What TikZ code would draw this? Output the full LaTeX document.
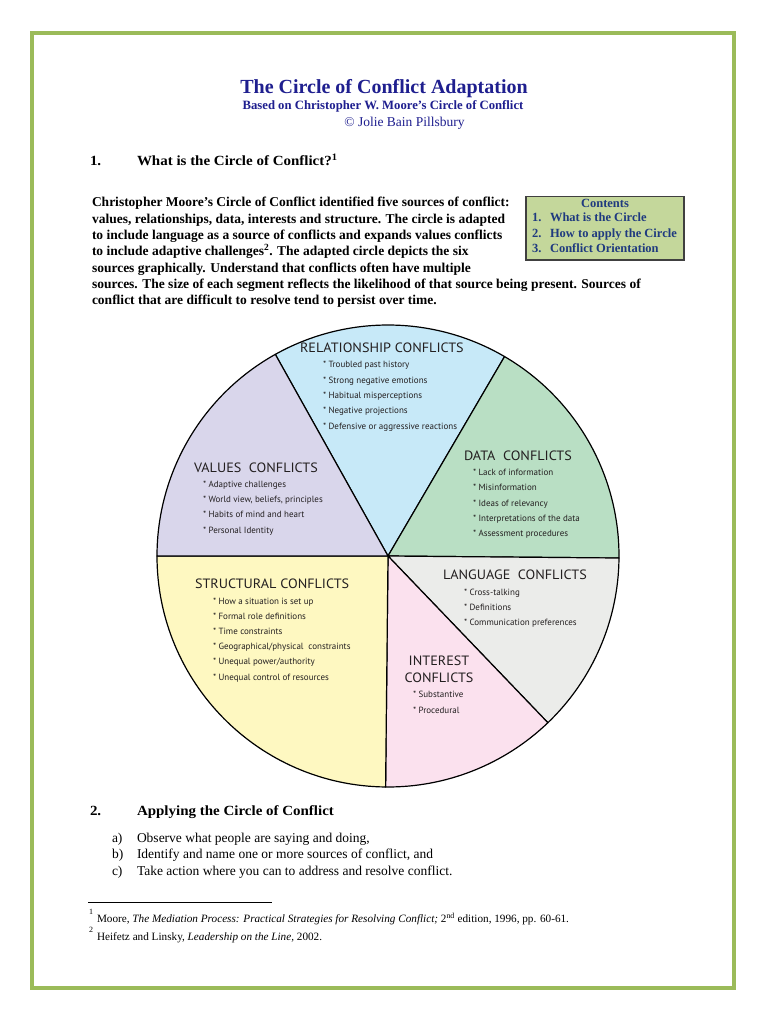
\documentclass[tikz,border=0pt]{standalone}
\usepackage{fontspec}
\setmainfont{Liberation Serif}
\newfontfamily\headfont{Liberation Serif}[FakeStretch=1.07]
\newfontfamily\piefont{PT Sans}
\newfontfamily\piehfont{PT Sans}[FakeStretch=1.05]
\definecolor{bordergreen}{HTML}{9BBB59}
\definecolor{titleblue}{HTML}{1F1F8F}
\definecolor{relblue}{HTML}{C7E9F8}
\definecolor{datagreen}{HTML}{B9DFC4}
\definecolor{langgray}{HTML}{EBECEA}
\definecolor{intpink}{HTML}{FBE1EE}
\definecolor{structyellow}{HTML}{FEF8C1}
\definecolor{valuelav}{HTML}{D9D6EB}
\definecolor{contentsgreen}{HTML}{C4D79B}
\definecolor{contentsblue}{HTML}{1F3A7F}
\definecolor{pieink}{HTML}{231F20}
\begin{document}
\begin{tikzpicture}[x=1pt,y=-1pt,
  txt/.style={anchor=base west, inner sep=0pt, outer sep=0pt},
  ctxt/.style={anchor=base, inner sep=0pt, outer sep=0pt},
  bodyline/.style={txt, font=\bfseries\fontsize{13.5}{15}\selectfont},
  itemline/.style={txt, font=\fontsize{13.5}{15}\selectfont},
  heading/.style={txt, font=\headfont\bfseries\fontsize{14}{16}\selectfont},
  conttxt/.style={txt, font=\bfseries\fontsize{12.5}{14}\selectfont, text=contentsblue},
  piehead/.style={txt, font=\piehfont\fontsize{13.5}{15}\selectfont, text=pieink},
  pieitem/.style={txt, font=\piefont\fontsize{9}{10}\selectfont, text=pieink},
  footline/.style={txt, font=\fontsize{11.2}{13}\selectfont},
  footnum/.style={txt, font=\fontsize{8}{9}\selectfont},
  seg/.style={draw=black, line width=1.2pt, line join=round}
]
\useasboundingbox (0,0) rectangle (768,1024);
\fill[white] (0,0) rectangle (768,1024);
\draw[bordergreen, line width=4pt] (32,33) rectangle (734,988);

% Title block
\node[ctxt, font=\bfseries\fontsize{20}{22}\selectfont, text=titleblue] (title) at (384,94) {The Circle of Conflict Adaptation};
\node[ctxt, font=\bfseries\fontsize{12.7}{14}\selectfont, text=titleblue] (subtitle) at (383,110) {Based on Christopher W. Moore’s Circle of Conflict};
\node[ctxt, font=\fontsize{13.5}{15}\selectfont, text=titleblue] (author) at (404.5,126.5) {© Jolie Bain Pillsbury};

% Heading 1
\node[heading] (h1num) at (90,166) {1.};
\node[heading] (h1) at (137,166) {What is the Circle of Conflict?\textsuperscript{1}};

% Paragraph
\node[bodyline] (p1) at (92,207) {Christopher Moore’s Circle of Conflict identified five sources of conflict:};
\node[bodyline] (p2) at (92,223.3) {values, relationships, data, interests and structure. The circle is adapted};
\node[bodyline] (p3) at (92,239.6) {to include language as a source of conflicts and expands values conflicts};
\node[bodyline] (p4) at (92,255.9) {to include adaptive challenges\textsuperscript{2}. The adapted circle depicts the six};
\node[bodyline] (p5) at (92,272.2) {sources graphically. Understand that conflicts often have multiple};
\node[bodyline] (p6) at (92,288.5) {sources. The size of each segment reflects the likelihood of that source being present. Sources of};
\node[bodyline] (p7) at (92,304.8) {conflict that are difficult to resolve tend to persist over time.};

% Contents box
\node[draw=black!75, line width=1.5pt, fill=contentsgreen, minimum width=158pt, minimum height=63pt, inner sep=0pt, anchor=north west] (cbox) at (525,196) {};
\node[ctxt, font=\bfseries\fontsize{12.5}{14}\selectfont, text=contentsblue] (ctitle) at (605,207.5) {Contents};
\node[conttxt] (c1n) at (532,222) {1.};
\node[conttxt] (c1) at (550,222) {What is the Circle};
\node[conttxt] (c2n) at (532,237) {2.};
\node[conttxt] (c2) at (550,237) {How to apply the Circle};
\node[conttxt] (c3n) at (532,252) {3.};
\node[conttxt] (c3) at (550,252) {Conflict Orientation};

% Pie chart
\begin{scope}[shift={(388,556)}, x=1pt, y=1pt]
  \filldraw[seg, fill=relblue] (0,0) -- (59.7:231) arc[start angle=59.7, end angle=119.2, radius=231] -- cycle;
  \filldraw[seg, fill=datagreen] (0,0) -- (-0.5:231) arc[start angle=-0.5, end angle=59.7, radius=231] -- cycle;
  \filldraw[seg, fill=langgray] (0,0) -- (-46.2:231) arc[start angle=-46.2, end angle=-0.5, radius=231] -- cycle;
  \filldraw[seg, fill=intpink] (0,0) -- (-90.6:231) arc[start angle=-90.6, end angle=-46.2, radius=231] -- cycle;
  \filldraw[seg, fill=structyellow] (0,0) -- (180:231) arc[start angle=180, end angle=269.4, radius=231] -- cycle;
  \filldraw[seg, fill=valuelav] (0,0) -- (119.2:231) arc[start angle=119.2, end angle=180, radius=231] -- cycle;
\end{scope}

% Relationship
\node[piehead] (relh) at (300,352) {RELATIONSHIP CONFLICTS};
\node[pieitem] (rel1) at (323,367) {* Troubled past history};
\node[pieitem] (rel2) at (323,383) {* Strong negative emotions};
\node[pieitem] (rel3) at (323,398) {* Habitual misperceptions};
\node[pieitem] (rel4) at (323,413) {* Negative projections};
\node[pieitem] (rel5) at (323,429) {* Defensive or aggressive reactions};
% Data
\node[piehead] (datah) at (464,460) {DATA\ \ CONFLICTS};
\node[pieitem] (data1) at (473,475) {* Lack of information};
\node[pieitem] (data2) at (473,490) {* Misinformation};
\node[pieitem] (data3) at (473,506) {* Ideas of relevancy};
\node[pieitem] (data4) at (473,521) {* Interpretations of the data};
\node[pieitem] (data5) at (473,536) {* Assessment procedures};
% Values
\node[piehead] (valh) at (194,472) {VALUES\ \ CONFLICTS};
\node[pieitem] (val1) at (203,487) {* Adaptive challenges};
\node[pieitem] (val2) at (203,502) {* World view, beliefs, principles};
\node[pieitem] (val3) at (203,517) {* Habits of mind and heart};
\node[pieitem] (val4) at (203,533) {* Personal Identity};
% Language
\node[piehead] (langh) at (443,579) {LANGUAGE\ \ CONFLICTS};
\node[pieitem] (lang1) at (464,595) {* Cross-talking};
\node[pieitem] (lang2) at (464,610) {* Definitions};
\node[pieitem] (lang3) at (464,625) {* Communication preferences};
% Structural
\node[piehead] (strh) at (195,588) {STRUCTURAL CONFLICTS};
\node[pieitem] (str1) at (213,604) {* How a situation is set up};
\node[pieitem] (str2) at (213,619) {* Formal role definitions};
\node[pieitem] (str3) at (213,634) {* Time constraints};
\node[pieitem] (str4) at (213,649) {* Geographical/physical\ \ constraints};
\node[pieitem] (str5) at (213,664) {* Unequal power/authority};
\node[pieitem] (str6) at (213,680) {* Unequal control of resources};
% Interest
\node[piehead, anchor=base] (inth1) at (439,665) {INTEREST};
\node[piehead, anchor=base] (inth2) at (439,682) {CONFLICTS};
\node[pieitem] (int1) at (413,697) {* Substantive};
\node[pieitem] (int2) at (413,713) {* Procedural};

% Heading 2
\node[heading] (h2num) at (90,815) {2.};
\node[heading] (h2) at (137,815) {Applying the Circle of Conflict};
\node[itemline] (ia) at (112,842) {a)};
\node[itemline] (ta) at (137,842) {Observe what people are saying and doing,};
\node[itemline] (ib) at (112,858) {b)};
\node[itemline] (tb) at (137,858) {Identify and name one or more sources of conflict, and};
\node[itemline] (ic) at (112,875) {c)};
\node[itemline] (tc) at (137,875) {Take action where you can to address and resolve conflict.};

% Footnotes
\coordinate (ruleA) at (88,902);
\coordinate (ruleB) at (272,902);
\draw[line width=0.8pt] (ruleA) -- (ruleB);
\node[footnum] (f1n) at (89,914) {1};
\node[footline] (f1) at (97,922) {Moore, \textit{The Mediation Process: Practical Strategies for Resolving Conflict;} 2\textsuperscript{nd} edition, 1996, pp. 60-61.};
\node[footnum] (f2n) at (89,932) {2};
\node[footline] (f2) at (97,940) {Heifetz and Linsky, \textit{Leadership on the Line,} 2002.};
\end{tikzpicture}
\end{document}
